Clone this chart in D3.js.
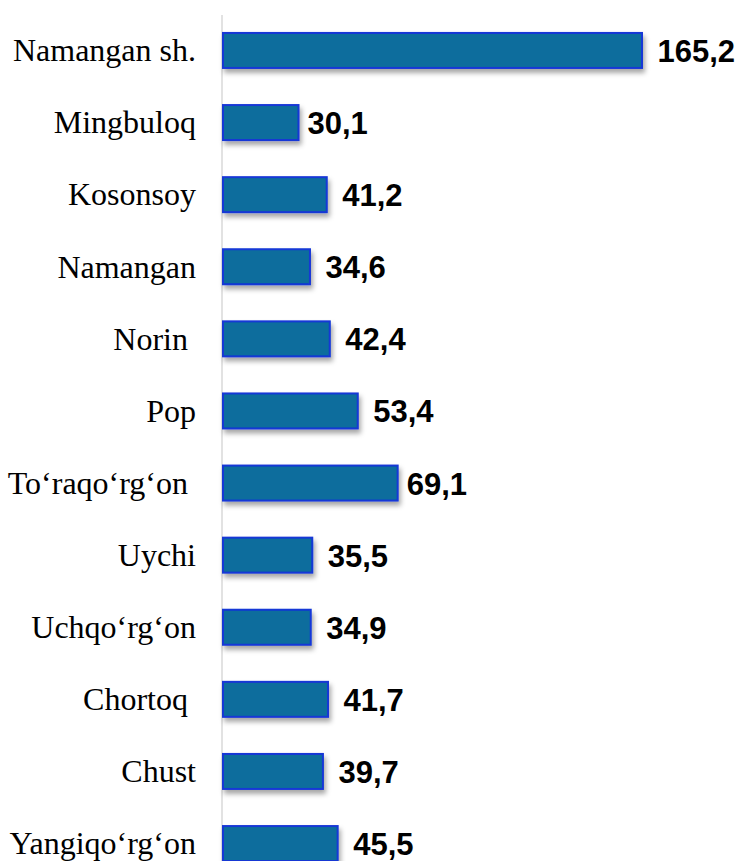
<!DOCTYPE html>
<html>
<head>
<meta charset="utf-8">
<script src="https://cdn.jsdelivr.net/npm/d3@7"></script>
<style>
html,body{margin:0;padding:0;background:#fff;}
svg{display:block;}
</style>
</head>
<body>
<svg id="chart" width="741" height="861"></svg>
<script>
const categories = ["Namangan sh.", "Mingbuloq", "Kosonsoy", "Namangan", "Norin ", "Pop", "To‘raqo‘rg‘on ", "Uychi", "Uchqo‘rg‘on", "Chortoq ", "Chust", "Yangiqo‘rg‘on"];
const values = [165.2, 30.1, 41.2, 34.6, 42.4, 53.4, 69.1, 35.5, 34.9, 41.7, 39.7, 45.5];
const valueLabels = ["165,2", "30,1", "41,2", "34,6", "42,4", "53,4", "69,1", "35,5", "34,9", "41,7", "39,7", "45,5"];

const svg = d3.select("#chart");
const W = 741, H = 861;

const x = d3.scaleLinear().domain([0, 165.2]).range([223, 643]);
const y = d3.scaleBand().domain(categories).range([14.4, 879.6])
  .paddingInner(0.487).paddingOuter(0.2435).align(0.5);

const defs = svg.append("defs");
const f = defs.append("filter").attr("id", "shadow")
  .attr("x", "-10%").attr("y", "-30%").attr("width", "130%").attr("height", "180%");
f.append("feDropShadow").attr("dx", 2).attr("dy", 4).attr("stdDeviation", 2.5)
  .attr("flood-color", "#000").attr("flood-opacity", 0.35);

// axis line
svg.append("line")
  .attr("x1", 222).attr("x2", 222).attr("y1", 15).attr("y2", H)
  .attr("stroke", "#d9d9d9").attr("stroke-width", 1.5);

const data = categories.map((c, i) => ({c, v: values[i], l: valueLabels[i]}));
// labels drawn closer to their bar in the original
const closeLabels = new Set(["Mingbuloq", "To‘raqo‘rg‘on "]);

svg.append("g").selectAll("rect").data(data).join("rect")
  .attr("x", x(0))
  .attr("y", d => y(d.c) + 1)
  .attr("width", d => x(d.v) - x(0) - 1)
  .attr("height", y.bandwidth() - 2)
  .attr("fill", "#0b6d9d")
  .attr("stroke", "#1537d6")
  .attr("stroke-width", 2)
  .attr("filter", "url(#shadow)");

svg.append("g").selectAll("text").data(data).join("text")
  .attr("x", 196)
  .attr("y", d => y(d.c) + y.bandwidth() / 2 + 10.8)
  .attr("text-anchor", "end")
  .style("white-space", "pre")
  .attr("font-family", "'Liberation Serif', 'Times New Roman', serif")
  .attr("font-size", 32)
  .attr("fill", "#000")
  .text(d => d.c);

svg.append("g").selectAll("text").data(data).join("text")
  .attr("x", d => x(d.v) + (closeLabels.has(d.c) ? 8 : 14.5))
  .attr("y", d => y(d.c) + y.bandwidth() / 2 + 11.5)
  .attr("text-anchor", "start")
  .attr("font-family", "'Liberation Sans', Arial, sans-serif")
  .attr("font-weight", "bold")
  .attr("font-size", 31)
  .attr("fill", "#000")
  .text(d => d.l);
</script>
</body>
</html>
